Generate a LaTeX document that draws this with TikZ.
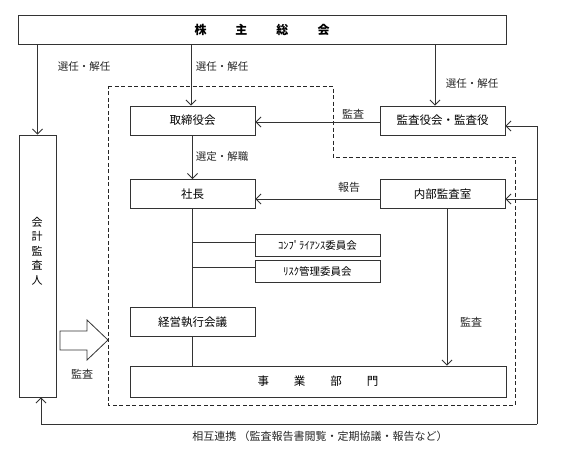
\documentclass[tikz,border=0pt]{standalone}
\usepackage{fontspec}
\setmainfont{Noto Sans CJK JP}
\usetikzlibrary{arrows.meta}
\begin{document}
\begin{tikzpicture}[x=1pt,y=-1pt,
  box/.style={draw=black!80, line width=0.9pt, minimum width=125pt, minimum height=29pt, inner sep=0pt, font=\fontsize{11.5}{13}\selectfont},
  smallbox/.style={box, minimum height=22pt, font=\fontsize{10.5}{12}\selectfont},
  lbl/.style={font=\fontsize{11}{12}\selectfont, inner sep=0pt, text=black!85},
  dotlbl/.style={lbl, font=\fontsize{10.5}{12}\selectfont},
  conn/.style={draw=black!80, line width=0.8pt},
  arr/.style={conn, -{Straight Barb[length=5pt,width=10pt]}},
  dashedbox/.style={draw=black!85, line width=0.8pt, dash pattern=on 4pt off 2.5pt}]
\useasboundingbox (0,0) rectangle (567,458);

% dashed region
\draw[dashedbox] (108,86) -- (333,86) -- (333,157) -- (515,157) -- (515,405) -- (108,405) -- cycle;

% nodes
\node[box, minimum width=488pt, font=\bfseries\fontsize{12}{14}\selectfont] (agm) at (262,29.5) {株\hspace{29pt}主\hspace{29pt}総\hspace{29pt}会};
\node[box, minimum width=37pt, minimum height=262pt] (auditor) at (37.5,266) {};
\node[align=center, inner sep=0pt, font=\fontsize{11}{14.5}\selectfont] (auditortext) at (37,251) {会\\計\\監\\査\\人};
\node[box] (board) at (192.5,120.5) {取締役会};
\node[box] (kansayaku) at (442.5,120.5) {監査役会・監査役};
\node[box] (pres) at (192.5,194) {社長};
\node[box] (naibu) at (442.5,194) {内部監査室};
\node[smallbox] (comp) at (317.5,245) {ｺﾝﾌﾟﾗｲｱﾝｽ委員会};
\node[smallbox] (risk) at (317.5,271.5) {ﾘｽｸ管理委員会};
\node[box] (keiei) at (192.5,322) {経営執行会議};
\node[box, minimum width=376pt, minimum height=31pt] (jigyo) at (318,381.5) {事\hspace{25pt}業\hspace{25pt}部\hspace{25pt}門};

\coordinate (c1) at (537,126);
\coordinate (c2) at (537,424);
\coordinate (c3) at (41,424);

% connectors
\draw[arr] (agm.south -| auditor.north) -- (auditor.north);
\draw[arr] ([xshift=-1.5pt]agm.south -| board.north) -- ([xshift=-1.5pt]board.north);
\draw[arr] ([xshift=-7.5pt]kansayaku.north |- agm.south) -- ([xshift=-7.5pt]kansayaku.north);
\draw[arr] ([yshift=-1.5pt]kansayaku.west) -- ([yshift=-1.5pt]board.east);
\draw[arr] (board.south) -- (pres.north);
\draw[arr] ([yshift=-5pt]naibu.west) -- ([yshift=-5pt]pres.east);
\draw[conn] (pres.south) -- (keiei.north);
\draw[conn] ([yshift=3pt]comp.west -| pres.south) -- ([yshift=3pt]comp.west);
\draw[conn] ([yshift=4.5pt]risk.west -| pres.south) -- ([yshift=4.5pt]risk.west);
\draw[conn] (keiei.south) -- (keiei.south |- jigyo.north);
\draw[arr] ([xshift=4.5pt]naibu.south) -- ([xshift=4.5pt]naibu.south |- jigyo.north);
\draw[arr] (c2) -- (c1) -- (c1 -| kansayaku.east);
\draw[arr] ([yshift=-5pt]naibu.east -| c1) -- ([yshift=-5pt]naibu.east);
\draw[arr] (c2) -- (c3) -- (c3 |- auditor.south);

% block arrow
\draw[conn, fill=white] (60,331) -- (87,331) -- (87,320) -- (108,340) -- (87,360) -- (87,350) -- (60,350) -- cycle;

% labels
\node[dotlbl] (l1) at (84,67) {選任・解任};
\node[dotlbl] (l2) at (222,67) {選任・解任};
\node[dotlbl] (l3) at (472,84) {選任・解任};
\node[lbl] (l4) at (353,114) {監査};
\node[dotlbl] (l5) at (222,157) {選定・解職};
\node[lbl] (l6) at (349,187) {報告};
\node[lbl] (l7) at (471,322) {監査};
\node[lbl] (l8) at (82,374) {監査};
\node[lbl] (l9) at (320,436) {相互連携 （監査報告書閲覧・定期協議・報告など）};
\end{tikzpicture}
\end{document}
